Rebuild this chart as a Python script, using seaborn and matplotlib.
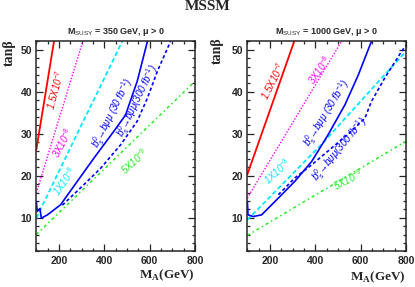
import matplotlib
matplotlib.use("Agg")
import matplotlib.pyplot as plt
from matplotlib.ticker import MultipleLocator
import seaborn as sns

# M_SUSY = 350 GeV panel
ma_red_350 = [100, 178]
tb_red_350 = [26.2, 52]
ma_mag_350 = [100, 305]
tb_mag_350 = [15.9, 52]
ma_cyan_350 = [100, 280, 380, 479]
tb_cyan_350 = [9.9, 30.0, 41.0, 52]
ma_b30_350 = [100, 104, 116, 122, 149, 207, 281, 354, 442, 494, 509, 545, 590]
tb_b30_350 = [13.9, 11.5, 12.2, 9.9, 10.7, 13.1, 18.7, 24.2, 30.6, 34.5, 36.9, 42.5, 52]
ma_b300_350 = [215, 310, 384, 472, 545, 590, 634, 692]
tb_b300_350 = [13.0, 17.9, 21.8, 27.4, 33.0, 38.5, 44.9, 52]
ma_green_350 = [100, 800]
tb_green_350 = [6.0, 42.5]

# M_SUSY = 1000 GeV panel
ma_red_1000 = [100, 307]
tb_red_1000 = [20.3, 52]
ma_mag_1000 = [100, 516]
tb_mag_1000 = [14.7, 52]
ma_cyan_1000 = [100, 428, 800]
tb_cyan_1000 = [9.5, 27.5, 49.6]
ma_b30_1000 = [100, 103, 126, 163, 237, 310, 384, 457, 531, 590, 648]
tb_b30_1000 = [13.9, 10.7, 10.3, 10.7, 14.7, 18.7, 23.4, 29.8, 36.9, 44.0, 52]
ma_b300_1000 = [237, 310, 384, 472, 560, 619, 648, 707, 781, 800]
tb_b300_1000 = [15.5, 19.5, 22.6, 26.6, 30.6, 33.7, 37.7, 43.3, 49.6, 51.0]
ma_green_1000 = [100, 800]
tb_green_1000 = [5.8, 28.2]

subtitles = ["350", "1000"]
lbl_red = r"1.5X10$^{-7}$"
lbl_mag = r"3X10$^{-8}$"
lbl_cyan = r"1X10$^{-8}$"
lbl_green = r"5X10$^{-9}$"
lbl_b30 = r"b$_s^0$→bμμ (30 fb$^{-1}$)"
lbl_b300 = r"b$_s^0$→bμμ(300 fb$^{-1}$)"

sns.set_theme(style="ticks")
plt.rcParams["font.family"] = ["Liberation Sans", "DejaVu Sans"]
plt.rcParams["mathtext.fontset"] = "custom"
plt.rcParams["mathtext.rm"] = "Liberation Sans"
plt.rcParams["mathtext.it"] = "Liberation Sans:italic"
plt.rcParams["mathtext.bf"] = "Liberation Sans:bold"
plt.rcParams["mathtext.cal"] = "Liberation Serif:bold"

fig = plt.figure(figsize=(4.15, 2.87), dpi=100)
ax1 = fig.add_axes([0.0875, 0.124, 0.3825, 0.732])
ax2 = fig.add_axes([0.596, 0.124, 0.382, 0.732])

curves = {
    ax1: [
        (ma_red_350, tb_red_350, "#ff0000", "-", 1.3),
        (ma_mag_350, tb_mag_350, "#ff00ff", (0, (1, 1.2)), 1.0),
        (ma_cyan_350, tb_cyan_350, "#00e8ff", (0, (2.5, 1.5)), 1.3),
        (ma_b30_350, tb_b30_350, "#0000ff", "-", 1.2),
        (ma_b300_350, tb_b300_350, "#0000ff", (0, (2, 1.5)), 1.2),
        (ma_green_350, tb_green_350, "#22ee22", (0, (2, 2, 1, 2)), 1.1),
    ],
    ax2: [
        (ma_red_1000, tb_red_1000, "#ff0000", "-", 1.3),
        (ma_mag_1000, tb_mag_1000, "#ff00ff", (0, (1, 1.2)), 1.0),
        (ma_cyan_1000, tb_cyan_1000, "#00e8ff", (0, (2.5, 1.5)), 1.3),
        (ma_b30_1000, tb_b30_1000, "#0000ff", "-", 1.2),
        (ma_b300_1000, tb_b300_1000, "#0000ff", (0, (2, 1.5)), 1.2),
        (ma_green_1000, tb_green_1000, "#22ee22", (0, (2, 2, 1, 2)), 1.1),
    ],
}

for ax, lines in curves.items():
    for ma, tb, col, ls, lw in lines:
        sns.lineplot(x=ma, y=tb, ax=ax, color=col, linestyle=ls, linewidth=lw,
                     sort=False, estimator=None)
    ax.set_xlim(100, 800)
    ax.set_ylim(2, 52)
    ax.xaxis.set_major_locator(MultipleLocator(200))
    ax.xaxis.set_minor_locator(MultipleLocator(50))
    ax.yaxis.set_major_locator(MultipleLocator(10))
    ax.yaxis.set_minor_locator(MultipleLocator(2))
    ax.tick_params(which="both", direction="in", top=True, right=True, width=0.9,
                   labelsize=7.5, pad=3)
    ax.tick_params(which="major", length=5)
    ax.tick_params(which="minor", length=2.5)
    for lab in ax.get_xticklabels() + ax.get_yticklabels():
        lab.set_fontweight("bold")
    for sp in ax.spines.values():
        sp.set_linewidth(1.1)
    ax.set_xlabel("")
    ax.set_ylabel("")

# curve labels, left
txt = dict(fontsize=7, fontstyle="italic", ha="center", va="center")
ax1.text(186, 40.5, lbl_red, color="#ff0000", rotation=75, **txt)
ax1.text(215, 27.8, lbl_mag, color="#ff00ff", rotation=62, **txt)
ax1.text(225, 18.8, lbl_cyan, color="#00e8ff", rotation=55, **txt)
ax1.text(435, 34.9, lbl_b30, color="#0000ff", rotation=63, **txt)
ax1.text(548, 37.7, lbl_b300, color="#0000ff", rotation=64, **txt)
ax1.text(531, 23.6, lbl_green, color="#22ee22", rotation=42, **txt)

# curve labels, right
ax2.text(212, 42.5, lbl_red, color="#ff0000", rotation=63, **txt)
ax2.text(421, 45.2, lbl_mag, color="#ff00ff", rotation=55, **txt)
ax2.text(232, 21.0, lbl_cyan, color="#00e8ff", rotation=42, **txt)
ax2.text(450, 34.9, lbl_b30, color="#0000ff", rotation=58, **txt)
ax2.text(509, 26.2, lbl_b300, color="#0000ff", rotation=50, **txt)
ax2.text(545, 19.1, lbl_green, color="#22ee22", rotation=27, **txt)

for ax, m in zip([ax1, ax2], subtitles):
    ax.set_title(r"M$_{\rm SUSY}$ = " + m + " GeV, μ > 0", fontsize=6.5,
                 fontweight="bold", pad=5)

serif = dict(family=["Liberation Serif", "DejaVu Serif"], fontweight="bold")
fig.text(0.5, 0.978, "MSSM", fontsize=11, ha="center", va="center", **serif)
fig.text(0.022, 0.815, "tanβ", fontsize=10, rotation=90, ha="center", va="center", **serif)
fig.text(0.524, 0.822, "tanβ", fontsize=10, rotation=90, ha="center", va="center", **serif)
fig.text(0.47, 0.04, r"M$_{\mathcal{A}}$(GeV)", fontsize=9.5, ha="right", va="center", **serif)
fig.text(0.978, 0.035, r"M$_{\mathcal{A}}$(GeV)", fontsize=9.5, ha="right", va="center", **serif)

fig.savefig("out.png", dpi=100)
